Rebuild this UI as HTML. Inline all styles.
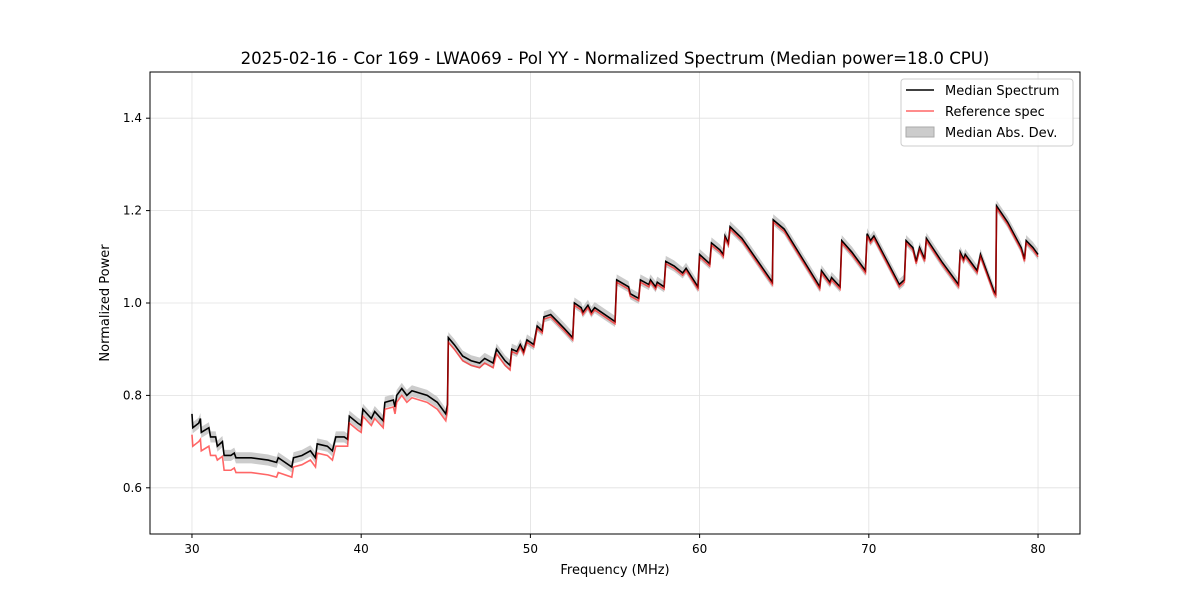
<!DOCTYPE html>
<html><head><meta charset="utf-8"><style>
body{margin:0;background:#fff;font-family:"Liberation Sans","DejaVu Sans",sans-serif;}
svg text{font-family:"DejaVu Sans","Liberation Sans",sans-serif;}
</style></head><body>
<svg id="c" width="1200" height="600"></svg>
<script>
const freqs=[30.0,30.05,30.4,30.5,30.55,31.0,31.1,31.4,31.5,31.8,31.9,32.3,32.5,32.6,33.5,34.5,35.0,35.1,35.9,36.0,36.5,37.0,37.3,37.4,38.0,38.3,38.5,39.0,39.2,39.3,39.8,40.0,40.1,40.6,40.8,41.3,41.4,41.9,42.0,42.1,42.4,42.7,43.0,43.9,44.5,45.0,45.1,45.15,45.5,46.0,46.5,47.0,47.3,47.8,48.0,48.5,48.8,48.9,49.2,49.4,49.6,49.8,50.2,50.4,50.7,50.8,51.2,51.6,52.0,52.5,52.6,53.0,53.1,53.4,53.6,53.8,54.0,55.0,55.1,55.8,55.9,56.4,56.5,57.0,57.1,57.4,57.5,57.9,58.0,58.5,59.0,59.2,59.9,60.0,60.6,60.7,61.2,61.4,61.5,61.7,61.8,62.5,64.3,64.35,65.0,67.1,67.2,67.7,67.8,68.3,68.4,69.0,69.8,69.9,70.1,70.3,71.8,72.1,72.2,72.6,72.8,73.0,73.3,73.4,74.3,75.3,75.4,75.6,75.7,76.4,76.6,77.4,77.5,77.55,78.2,79.0,79.2,79.3,79.7,79.9,80.0];
const median=[0.76,0.73,0.74,0.75,0.72,0.73,0.71,0.71,0.69,0.70,0.67,0.67,0.675,0.665,0.665,0.66,0.655,0.665,0.645,0.665,0.67,0.68,0.665,0.695,0.69,0.68,0.71,0.71,0.705,0.755,0.74,0.735,0.77,0.75,0.765,0.745,0.785,0.79,0.775,0.80,0.815,0.80,0.81,0.80,0.785,0.76,0.78,0.925,0.91,0.885,0.875,0.87,0.88,0.87,0.90,0.875,0.865,0.90,0.895,0.91,0.895,0.92,0.91,0.95,0.94,0.97,0.975,0.96,0.945,0.925,1.0,0.99,0.98,0.995,0.98,0.99,0.985,0.96,1.05,1.035,1.02,1.01,1.05,1.04,1.05,1.035,1.045,1.035,1.09,1.08,1.065,1.075,1.035,1.105,1.085,1.13,1.115,1.105,1.145,1.13,1.165,1.14,1.045,1.18,1.16,1.035,1.07,1.045,1.055,1.035,1.135,1.11,1.07,1.15,1.135,1.145,1.04,1.05,1.135,1.12,1.09,1.12,1.095,1.14,1.09,1.04,1.11,1.095,1.105,1.07,1.105,1.025,1.02,1.21,1.175,1.12,1.095,1.135,1.12,1.11,1.105];
const refSpec=[0.715,0.69,0.70,0.705,0.68,0.69,0.67,0.67,0.66,0.668,0.638,0.638,0.643,0.633,0.633,0.628,0.623,0.633,0.623,0.645,0.65,0.66,0.645,0.675,0.67,0.66,0.69,0.69,0.69,0.74,0.725,0.72,0.755,0.735,0.75,0.73,0.77,0.775,0.76,0.785,0.80,0.785,0.795,0.785,0.77,0.745,0.765,0.915,0.90,0.875,0.865,0.86,0.87,0.86,0.89,0.865,0.855,0.895,0.89,0.905,0.89,0.915,0.905,0.945,0.935,0.965,0.97,0.955,0.94,0.92,0.995,0.985,0.975,0.99,0.975,0.985,0.98,0.955,1.045,1.03,1.015,1.005,1.045,1.035,1.045,1.03,1.04,1.03,1.085,1.075,1.06,1.07,1.03,1.1,1.08,1.125,1.11,1.10,1.14,1.125,1.16,1.135,1.04,1.175,1.155,1.03,1.065,1.04,1.05,1.03,1.13,1.105,1.065,1.145,1.13,1.14,1.035,1.045,1.13,1.115,1.085,1.115,1.09,1.135,1.085,1.035,1.105,1.09,1.10,1.065,1.10,1.02,1.015,1.205,1.17,1.115,1.09,1.13,1.115,1.105,1.10];
const xTicks=[30,40,50,60,70,80];
const yTicks=[0.6,0.8,1.0,1.2,1.4];
const madWidth=0.012;

const NS='http://www.w3.org/2000/svg';
const svg=document.getElementById('c');
const L=150,R=1080,T=72,B=534,X0=27.52,X1=82.48,Y0=0.5,Y1=1.5;
const sx=v=>L+(v-X0)/(X1-X0)*(R-L);
const sy=v=>B-(v-Y0)/(Y1-Y0)*(B-T);
function el(t,a,p){const e=document.createElementNS(NS,t);for(const k in a)e.setAttribute(k,a[k]);(p||svg).appendChild(e);return e;}
xTicks.forEach(t=>{const g=el('line',{x1:sx(t),x2:sx(t),y1:T,y2:B,stroke:'#e0e0e0','stroke-width':0.8});

});
yTicks.forEach(t=>{const g=el('line',{x1:L,x2:R,y1:sy(t),y2:sy(t),stroke:'#e0e0e0','stroke-width':0.8});

});
let up=freqs.map((f,i)=>sx(f)+','+sy(median[i]+madWidth));
let dn=freqs.map((f,i)=>sx(f)+','+sy(median[i]-madWidth)).reverse();
const band=el('polygon',{points:up.concat(dn).join(' '),fill:'#bbb','fill-opacity':0.75,stroke:'none'});


const ml=el('polyline',{points:freqs.map((f,i)=>sx(f)+','+sy(median[i])).join(' '),fill:'none',stroke:'#000','stroke-width':1.6});


const rl=el('polyline',{points:freqs.map((f,i)=>sx(f)+','+sy(refSpec[i])).join(' '),fill:'none',stroke:'#f00','stroke-opacity':0.6,'stroke-width':1.6});


const fr=el('rect',{x:L,y:T,width:R-L,height:B-T,fill:'none',stroke:'#000','stroke-width':1});


xTicks.forEach(t=>{el('line',{x1:sx(t),x2:sx(t),y1:B,y2:B+4,stroke:'#000'});
const tx=el('text',{x:sx(t),y:B+19,'text-anchor':'middle','font-size':12});tx.textContent=t;

});
yTicks.forEach(t=>{el('line',{x1:L-4,x2:L,y1:sy(t),y2:sy(t),stroke:'#000'});
const tx=el('text',{x:L-8,y:sy(t)+4,'text-anchor':'end','font-size':12});tx.textContent=t.toFixed(1);

});
</script>
<svg width="1200" height="600" style="position:absolute;left:0;top:0">
<text x="615" y="64" text-anchor="middle" font-size="16.6">2025-02-16 - Cor 169 - LWA069 - Pol YY - Normalized Spectrum (Median power=18.0 CPU)</text>
<text x="615" y="574" text-anchor="middle" font-size="13">Frequency (MHz)</text>
<text x="109" y="303" text-anchor="middle" font-size="13" transform="rotate(-90 109 303)">Normalized Power</text>
<g>
<rect x="901" y="79" width="172" height="67" rx="3" fill="#fff" fill-opacity="0.85" stroke="#ccc"/>
<line x1="906" x2="934" y1="90" y2="90" stroke="#000" stroke-width="1.6"/>
<text x="945" y="95" font-size="13">Median Spectrum</text>
<line x1="906" x2="934" y1="111" y2="111" stroke="#f66" stroke-width="1.6"/>
<text x="945" y="116" font-size="13">Reference spec</text>
<rect x="906" y="127" width="28" height="10" fill="#ccc" stroke="#aaa"/>
<text x="945" y="137" font-size="13">Median Abs. Dev.</text>
</g>
</svg>
</body></html>
